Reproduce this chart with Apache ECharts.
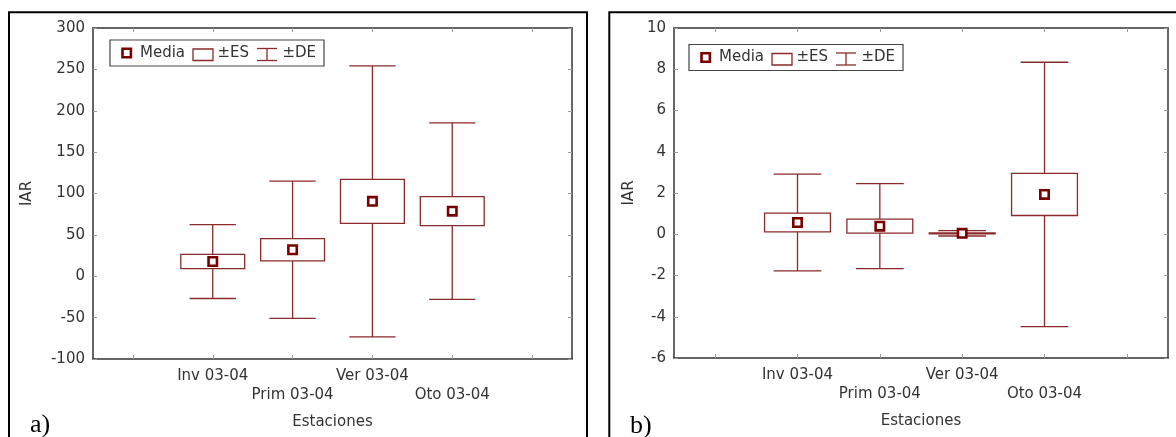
<!DOCTYPE html>
<html>
<head>
<meta charset="utf-8">
<script src="https://cdn.jsdelivr.net/npm/echarts@6/dist/echarts.min.js"></script>
<style>html,body{margin:0;padding:0;background:#fff}#c{width:1176px;height:437px}</style>
</head>
<body>
<div id="c"></div>
<script>
// ---- data ----
const categories = ['', 'Inv 03-04', 'Prim 03-04', 'Ver 03-04', 'Oto 03-04', ''];
const seasonIndex = [1, 2, 3, 4];
// panel a)
const meanA = [17.8, 32.0, 90.5, 78.7];
const seA   = [8.7, 13.5, 26.5, 17.5];
const sdA   = [44.7, 83.0, 163.8, 106.7];
const yMinA = -100, yMaxA = 300, yStepA = 50;
// panel b)
const meanB = [0.57, 0.39, 0.045, 1.93];
const seB   = [0.45, 0.34, 0.02, 1.02];
const sdB   = [2.35, 2.06, 0.13, 6.41];
const yMinB = -6, yMaxB = 10, yStepB = 2;
const legendLabels = ['Media', '±ES', '±DE'];
const xName = 'Estaciones', yName = 'IAR';

// ---- styles ----
const LINE = '#8a2a2a', MARK = '#7a0000', AX = '#333', TXT = '#333';
const FONT = 'DejaVu Sans';

function rows(mean, se, sd) { return seasonIndex.map((c, i) => [c, mean[i], se[i], sd[i]]); }

function whisker(p, api) {
  const x = api.value(0), m = api.value(1), sd = api.value(3);
  const t = api.coord([x, m + sd]), b = api.coord([x, m - sd]);
  const hw = api.size([1, 0])[0] * 0.29;
  const st = { stroke: LINE, lineWidth: 1.3 };
  return { type: 'group', children: [
    { type: 'line', shape: { x1: t[0], y1: t[1], x2: b[0], y2: b[1] }, style: st },
    { type: 'line', shape: { x1: t[0] - hw, y1: t[1], x2: t[0] + hw, y2: t[1] }, style: st },
    { type: 'line', shape: { x1: b[0] - hw, y1: b[1], x2: b[0] + hw, y2: b[1] }, style: st }
  ]};
}
function box(p, api) {
  const x = api.value(0), m = api.value(1), se = api.value(2);
  const t = api.coord([x, m + se]), b = api.coord([x, m - se]);
  const w = api.size([1, 0])[0] * 0.8;
  return { type: 'rect', shape: { x: t[0] - w / 2, y: t[1], width: w, height: Math.max(b[1] - t[1], 0.5) },
           style: { fill: '#fff', stroke: LINE, lineWidth: 1.3 } };
}
function meanMark(p, api) {
  const c = api.coord([api.value(0), api.value(1)]);
  return { type: 'rect', shape: { x: c[0] - 4.2, y: c[1] - 4.2, width: 8.4, height: 8.4 },
           style: { fill: '#fff', stroke: MARK, lineWidth: 2.6 } };
}

function xAxes(gi, top) {
  const base = {
    type: 'category', gridIndex: gi, data: categories, boundaryGap: true,
    axisLine: { show: true, onZero: false, lineStyle: { color: AX, width: 1.5 } },
    axisTick: { show: true, inside: true, length: 4, alignWithLabel: true, interval: 0, lineStyle: { color: '#999' } },
    splitLine: { show: false }
  };
  if (top) return Object.assign({}, base, { position: 'top', axisLabel: { show: false } });
  return Object.assign({}, base, {
    position: 'bottom',
    name: xName, nameLocation: 'middle', nameGap: 56,
    nameTextStyle: { fontFamily: FONT, fontSize: 15, color: TXT },
    axisLabel: { interval: 0, fontFamily: FONT, fontSize: 15, color: TXT, lineHeight: 19, margin: 8,
      formatter: (v, i) => (v && i % 2 === 0) ? '\n' + v : v }
  });
}
function yAxes(gi, min, max, step, right, gap) {
  const base = {
    type: 'value', gridIndex: gi, min: min, max: max, interval: step,
    axisLine: { show: true, onZero: false, lineStyle: { color: AX, width: 1.5 } },
    axisTick: { show: true, inside: true, length: 4, lineStyle: { color: '#999' } },
    splitLine: { show: false }
  };
  if (right) return Object.assign({}, base, { position: 'right', axisLabel: { show: false } });
  return Object.assign({}, base, {
    position: 'left', name: yName, nameLocation: 'middle', nameGap: gap, nameRotate: 90,
    nameTextStyle: { fontFamily: FONT, fontSize: 15, color: TXT },
    axisLabel: { fontFamily: FONT, fontSize: 15, color: TXT, margin: 8 }
  });
}

function series(xi, yi, data) {
  const common = { type: 'custom', coordinateSystem: 'cartesian2d', xAxisIndex: xi, yAxisIndex: yi,
    data: data, encode: { x: 0, y: 1 }, silent: true, animation: false, clip: false };
  return [
    Object.assign({ name: legendLabels[2], renderItem: whisker, z: 2 }, common),
    Object.assign({ name: legendLabels[1], renderItem: box, z: 3 }, common),
    Object.assign({ name: legendLabels[0], renderItem: meanMark, z: 4 }, common)
  ];
}

function legendGraphic(ox, oy) {
  const st = { stroke: LINE, lineWidth: 1.3, fill: 'none' };
  const tx = (t, x) => ({ type: 'text', x: ox + x, y: oy + 13,
    style: { text: t, font: '15px "' + FONT + '"', fill: TXT, verticalAlign: 'middle', align: 'left' } });
  return [
    { type: 'rect', shape: { x: ox, y: oy, width: 214, height: 26 }, style: { fill: '#fff', stroke: '#444', lineWidth: 1.2 } },
    { type: 'rect', shape: { x: ox + 12.5, y: oy + 8.8, width: 8.4, height: 8.4 }, style: { fill: '#fff', stroke: MARK, lineWidth: 2.6 } },
    tx(legendLabels[0], 30),
    { type: 'rect', shape: { x: ox + 83, y: oy + 9, width: 20, height: 11.5 }, style: st },
    tx(legendLabels[1], 107.5),
    { type: 'line', shape: { x1: ox + 147, y1: oy + 8.5, x2: ox + 167, y2: oy + 8.5 }, style: st },
    { type: 'line', shape: { x1: ox + 147, y1: oy + 20.5, x2: ox + 167, y2: oy + 20.5 }, style: st },
    { type: 'line', shape: { x1: ox + 157, y1: oy + 8.5, x2: ox + 157, y2: oy + 20.5 }, style: st },
    tx(legendLabels[2], 172.5)
  ];
}

const chart = echarts.init(document.getElementById('c'), null, { renderer: 'canvas' });
chart.setOption({
  backgroundColor: '#fff',
  animation: false,
  grid: [
    { left: 93, right: 1176 - 572, top: 28, bottom: 437 - 359, containLabel: false },
    { left: 674, right: 1176 - 1168, top: 28, bottom: 437 - 358, containLabel: false }
  ],
  xAxis: [xAxes(0, false), xAxes(0, true), xAxes(1, false), xAxes(1, true)],
  yAxis: [
    yAxes(0, yMinA, yMaxA, yStepA, false, 58),
    yAxes(0, yMinA, yMaxA, yStepA, true),
    yAxes(1, yMinB, yMaxB, yStepB, false, 37),
    yAxes(1, yMinB, yMaxB, yStepB, true)
  ],
  series: [].concat(series(0, 0, rows(meanA, seA, sdA)), series(2, 2, rows(meanB, seB, sdB))),
  graphic: [].concat(
    [
      { type: 'rect', shape: { x: 9, y: 12.3, width: 578, height: 450 }, style: { fill: 'none', stroke: '#000', lineWidth: 2 } },
      { type: 'rect', shape: { x: 609.3, y: 12.3, width: 600, height: 450 }, style: { fill: 'none', stroke: '#000', lineWidth: 2 } },
      { type: 'text', x: 30, y: 425, style: { text: 'a)', font: '26px "Liberation Serif"', fill: '#000', verticalAlign: 'middle' } },
      { type: 'text', x: 630, y: 426, style: { text: 'b)', font: '26px "Liberation Serif"', fill: '#000', verticalAlign: 'middle' } }
    ],
    legendGraphic(110, 40),
    legendGraphic(689, 44.5)
  )
});
</script>
</body>
</html>
